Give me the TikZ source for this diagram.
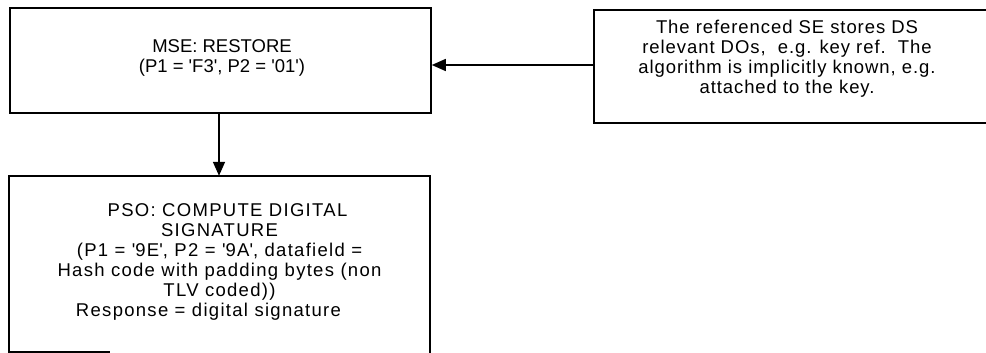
\documentclass[tikz,border=0pt]{standalone}
\usepackage{fontspec}
\setmainfont{Liberation Sans}
\usetikzlibrary{arrows.meta}
\newcommand{\q}{\textquotesingle}
\begin{document}
\begin{tikzpicture}[x=1pt,y=-1pt,
  boxline/.style={line width=1.6pt},
  txt/.style={align=center,inner sep=0pt,font=\fontsize{18.5}{20}\selectfont},
  conn/.style={line width=1.5pt,-{Triangle[length=14pt,width=12pt]}}]
\useasboundingbox (0,0) rectangle (986,353);
% boxes
\node[boxline,draw,minimum width=421pt,minimum height=105pt,inner sep=0pt] (mse) at (220.5,60.5) {};
\node[boxline,draw,minimum width=396pt,minimum height=113pt,inner sep=0pt] (se) at (792,66.5) {};
\node[minimum width=421pt,minimum height=188pt,inner sep=0pt] (pso) at (219.5,270) {};
\draw[boxline] (pso.south west) -- (pso.north west) -- (pso.north east) -- (pso.south east);
\coordinate (psob) at (9,352);
\coordinate (psobe) at (110,352);
\draw[boxline] (psob) -- (psobe);
% texts
\node[txt] (msetext) at (222,58) {MSE: RESTORE\\(P1 = \q F3\q, P2 = \q 01\q)};
\node[txt,font=\fontsize{18.5}{20}\selectfont\addfontfeatures{LetterSpace=5}] (setext) at (787,59) {The referenced SE stores DS\\relevant DOs,\ \ e.g. key ref.\ \ The\\algorithm is implicitly known, e.g.\\attached to the key.};
\node[txt,font=\fontsize{18.5}{20}\selectfont\addfontfeatures{LetterSpace=7}] (psotext) at (219.5,262) {\hspace*{16pt}PSO: COMPUTE DIGITAL\\SIGNATURE\hspace*{30pt}\\(P1 = \q 9E\q, P2 = \q 9A\q, datafield =\hspace*{46pt}\\Hash code with padding bytes (non\hspace*{44pt}\\TLV coded))\hspace*{70pt}\\Response = digital signature\hspace*{22pt}};
% connectors
\draw[conn] (se.west |- 0,65) -- (mse.east |- 0,65);
\draw[conn] (mse.south -| 219,0) -- (pso.north -| 219,0);
\end{tikzpicture}
\end{document}
